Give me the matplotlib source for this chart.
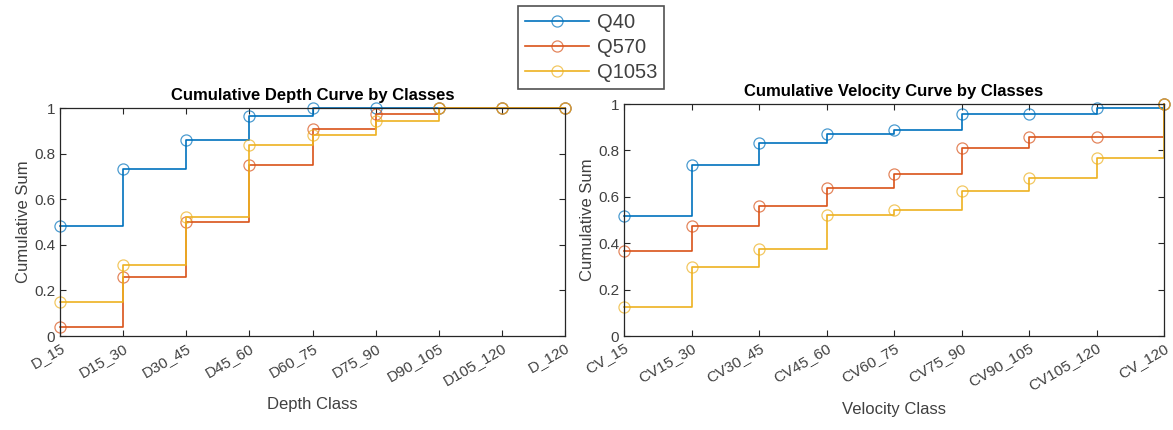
import numpy as np
import matplotlib
matplotlib.use('Agg')
import matplotlib.pyplot as plt
from matplotlib.colors import to_rgba

plt.rcParams['font.family'] = ['Liberation Sans', 'DejaVu Sans']

# 数据
depth_classes = ['D_15', 'D15_30', 'D30_45', 'D45_60', 'D60_75', 'D75_90', 'D90_105', 'D105_120', 'D_120']
velocity_classes = ['CV_15', 'CV15_30', 'CV30_45', 'CV45_60', 'CV60_75', 'CV75_90', 'CV90_105', 'CV105_120', 'CV_120']
series_names = ['Q40', 'Q570', 'Q1053']

depth_q40 = [0.482, 0.731, 0.860, 0.965, 1.0, 1.0, 1.0, 1.0, 1.0]
depth_q570 = [0.041, 0.257, 0.500, 0.751, 0.909, 0.975, 1.0, 1.0, 1.0]
depth_q1053 = [0.148, 0.310, 0.523, 0.839, 0.883, 0.943, 1.0, 1.0, 1.0]

vel_q40 = [0.516, 0.738, 0.833, 0.870, 0.886, 0.957, 0.957, 0.984, 1.0]
vel_q570 = [0.366, 0.476, 0.559, 0.636, 0.700, 0.810, 0.857, 0.857, 1.0]
vel_q1053 = [0.125, 0.299, 0.375, 0.520, 0.543, 0.627, 0.683, 0.767, 1.0]

colors = ['#0072BD', '#D95319', '#EDB120']
axis_color = '#262626'
text_color = '#404040'

fig = plt.figure(figsize=(11.73, 4.30), dpi=100)
ax1 = fig.add_axes([0.0512, 0.2186, 0.4305, 0.530])
ax2 = fig.add_axes([0.532, 0.2186, 0.4604, 0.5395])


def draw_panel(ax, classes, series, title, xlabel):
    x = np.arange(len(classes))
    lines = []
    for vals, c, name in zip(series, colors, series_names):
        ln, = ax.plot(x, vals, drawstyle='steps-post', color=c, lw=1.2,
                      marker='o', ms=8, mfc='none', mec=to_rgba(c, 0.7), mew=0.9,
                      label=name, clip_on=False)
        lines.append(ln)
    ax.set_xlim(0, len(classes) - 1)
    ax.set_ylim(0, 1)
    ax.set_xticks(x)
    ax.set_xticklabels(classes, rotation=30, ha='right', va='top',
                       rotation_mode='anchor', fontsize=11, color=text_color)
    yt = [0, 0.2, 0.4, 0.6, 0.8, 1]
    ax.set_yticks(yt)
    ax.set_yticklabels(['0', '0.2', '0.4', '0.6', '0.8', '1'], fontsize=11, color=text_color)
    ax.tick_params(direction='in', top=True, right=True, length=4, color=axis_color, width=0.8)
    for s in ax.spines.values():
        s.set_color(axis_color)
        s.set_linewidth(0.9)
    ax.set_title(title, fontsize=12, fontweight='bold', color='black', pad=6)
    ax.set_xlabel(xlabel, fontsize=12, color=text_color, labelpad=6)
    ax.set_ylabel('Cumulative Sum', fontsize=12, color=text_color, labelpad=2)
    return lines


handles = draw_panel(ax1, depth_classes, [depth_q40, depth_q570, depth_q1053],
                     'Cumulative Depth Curve by Classes', 'Depth Class')
draw_panel(ax2, velocity_classes, [vel_q40, vel_q570, vel_q1053],
           'Cumulative Velocity Curve by Classes', 'Velocity Class')

leg = fig.legend(handles, series_names, loc='upper left', bbox_to_anchor=(0.4416, 0.986),
                 fontsize=14.5, frameon=True, fancybox=False, handlelength=3.2,
                 borderpad=0.35, labelspacing=0.3, handletextpad=0.35, borderaxespad=0)
leg.get_frame().set_edgecolor(axis_color)
leg.get_frame().set_linewidth(1.2)
for t in leg.get_texts():
    t.set_color(text_color)

fig.savefig('out.png', dpi=100)
